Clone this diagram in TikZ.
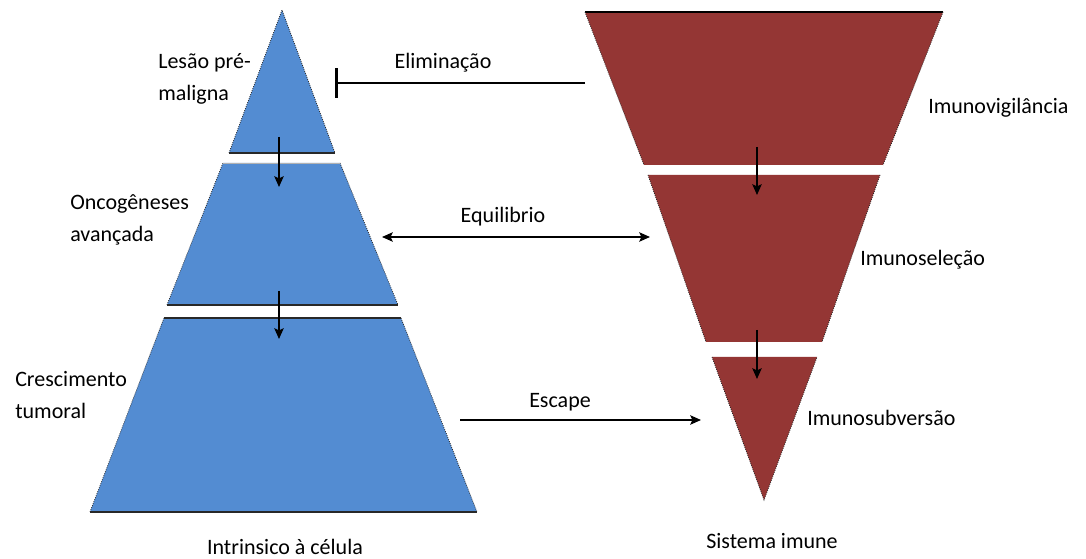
\documentclass[tikz,border=0pt]{standalone}
\usepackage{fontspec}
\setmainfont{Carlito}
\usetikzlibrary{arrows.meta}
\definecolor{pyrblue}{RGB}{83,140,210}
\definecolor{pyrred}{RGB}{148,54,52}
\definecolor{edgegray}{RGB}{40,40,40}
\begin{document}
\begin{tikzpicture}[x=0.75pt,y=-0.75pt,
  lbl/.style={inner sep=0pt,font=\fontsize{16.5}{24.5}\selectfont,text=black},
  bluepart/.style={fill=pyrblue,draw=edgegray,line width=0.5pt,densely dotted},
  redpart/.style={fill=pyrred,draw=pyrred!70!black,line width=0.5pt,densely dotted},
  conn/.style={line width=1.4pt,draw=black},
  tip/.style={-{Stealth[length=8pt,width=7pt,inset=1.5pt]}},
  dtip/.style={{Stealth[length=8pt,width=7pt,inset=1.5pt]}-{Stealth[length=8pt,width=7pt,inset=1.5pt]}},
  bartip/.style={-{Bar[width=22pt,line width=2.6pt]}}
]
\useasboundingbox[fill=white] (0,0) rectangle (1086,559);

% left pyramid
\fill[pyrblue] (282,10) -- (335,153) -- (229,153) -- cycle;
\draw[edgegray,line width=0.6pt,densely dotted] (229,153) -- (282,10) -- (335,153);
\draw[edgegray,line width=0.8pt] (229,153) -- (335,153);

\fill[pyrblue] (223,163) -- (340,163) -- (398,305) -- (167,305) -- cycle;
\draw[edgegray,line width=0.6pt,densely dotted] (167,305) -- (223,163);
\draw[edgegray,line width=0.6pt,densely dotted] (340,163) -- (398,305);
\draw[gray!60,line width=0.6pt] (223,163) -- (340,163);
\draw[edgegray,line width=0.8pt] (167,305) -- (398,305);

\fill[pyrblue] (164,318) -- (401,318) -- (477,512) -- (90,512) -- cycle;
\draw[edgegray,line width=0.6pt,densely dotted] (90,512) -- (164,318);
\draw[edgegray,line width=0.6pt,densely dotted] (401,318) -- (477,512);
\draw[edgegray,line width=0.8pt] (164,318) -- (401,318);
\draw[edgegray,line width=1pt] (90,512) -- (477,512);

% right inverted pyramid
\fill[pyrred] (585,12) -- (943,12) -- (883,165) -- (644,165) -- cycle;
\draw[black,line width=1pt] (585,12) -- (943,12);
\draw[edgegray,line width=0.6pt,densely dotted] (585,12) -- (644,165);
\draw[edgegray,line width=0.6pt,densely dotted] (943,12) -- (883,165);

\fill[pyrred] (648,175) -- (880,175) -- (822,342) -- (706,342) -- cycle;
\draw[edgegray,line width=0.6pt,densely dotted] (648,175) -- (706,342);
\draw[edgegray,line width=0.6pt,densely dotted] (880,175) -- (822,342);

\fill[pyrred] (712,357) -- (817,357) -- (764,500) -- cycle;
\draw[edgegray,line width=0.6pt,densely dotted] (712,357) -- (764,500) -- (817,357);

% inner coordinates
\coordinate (a1s) at (279,137);
\coordinate (a1e) at (279,187);
\coordinate (a2s) at (279,291);
\coordinate (a2e) at (279,339);
\coordinate (b1s) at (757,147);
\coordinate (b1e) at (757,195);
\coordinate (b2s) at (757,330);
\coordinate (b2e) at (757,379);
\draw[conn,tip] (a1s) -- (a1e);
\draw[conn,tip] (a2s) -- (a2e);
\draw[conn,tip] (b1s) -- (b1e);
\draw[conn,tip] (b2s) -- (b2e);

% horizontal connectors
\coordinate (elimR) at (585,83);
\coordinate (elimL) at (335,83);
\coordinate (eqL) at (382,237);
\coordinate (eqR) at (650,237);
\coordinate (escL) at (460,420);
\coordinate (escR) at (701,420);
\draw[conn,bartip] (elimR) -- (elimL);
\draw[conn,dtip] (eqL) -- (eqR);
\draw[conn,tip] (escL) -- (escR);

\node[lbl] (elim) at (443,63) {Eliminação};
\node[lbl] (equi) at (503,217) {Equilibrio};
\node[lbl] (esc) at (560,402) {Escape};

% left labels
\node[lbl,anchor=west,align=left] (lesao) at (158,79) {Lesão pré-\\maligna};
\node[lbl,anchor=west,align=left] (onco) at (70,220) {Oncogêneses\\avançada};
\node[lbl,anchor=west,align=left] (cresc) at (15,395) {Crescimento\\tumoral};
\node[lbl] (intr) at (285,547) {Intrinsico à célula};

% right labels
\node[lbl,anchor=west] (vig) at (928,108) {Imunovigilância};
\node[lbl,anchor=west] (sel) at (860,260) {Imunoseleção};
\node[lbl,anchor=west] (sub) at (807,418) {Imunosubversão};
\node[lbl] (sis) at (772,541) {Sistema imune};
\end{tikzpicture}
\end{document}
